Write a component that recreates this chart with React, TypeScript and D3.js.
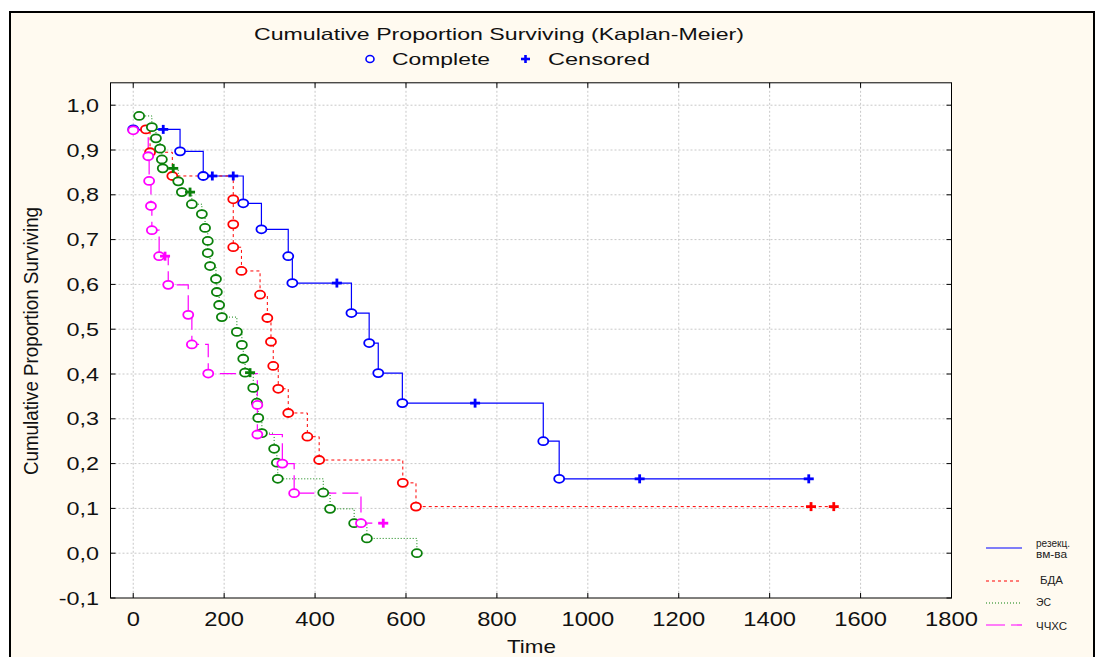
import * as d3 from 'd3';

// резекц. вм-ва
const resTimes = [0, 66, 103, 154, 174, 220, 242, 282, 341, 350, 448, 480, 519, 539, 592, 752, 902, 937, 1114, 1486];
const resSurv = [0.946, 0.946, 0.897, 0.842, 0.842, 0.842, 0.781, 0.723, 0.663, 0.603, 0.603, 0.536, 0.469, 0.402, 0.335, 0.335, 0.25, 0.166, 0.166, 0.166];
const resCens = [0, 1, 0, 0, 1, 1, 0, 0, 0, 0, 1, 0, 0, 0, 0, 1, 0, 0, 1, 1];

// БДА
const bdaTimes = [28, 37, 86, 220, 220, 220, 238, 279, 295, 303, 308, 319, 341, 383, 409, 593, 622, 1491, 1541];
const bdaSurv = [0.946, 0.895, 0.842, 0.79, 0.734, 0.683, 0.63, 0.577, 0.525, 0.472, 0.418, 0.367, 0.313, 0.26, 0.208, 0.157, 0.104, 0.104, 0.104];
const bdaCens = [0, 0, 0, 0, 0, 0, 0, 0, 0, 0, 0, 0, 0, 0, 0, 0, 0, 1, 1];

// ЭС
const esTimes = [13, 41, 50, 59, 63, 65, 88, 99, 107, 125, 129, 151, 158, 164, 164, 169, 182, 184, 189, 195, 228, 239, 242, 246, 257, 264, 272, 275, 283, 310, 316, 318, 418, 433, 486, 514, 624];
const esSurv = [0.976, 0.951, 0.926, 0.903, 0.879, 0.859, 0.859, 0.83, 0.806, 0.806, 0.779, 0.757, 0.726, 0.697, 0.67, 0.641, 0.612, 0.583, 0.554, 0.527, 0.494, 0.465, 0.434, 0.403, 0.403, 0.369, 0.336, 0.302, 0.268, 0.233, 0.202, 0.166, 0.135, 0.099, 0.067, 0.033, 0.0];
const esCens = [0, 0, 0, 0, 0, 0, 1, 0, 0, 1, 0, 0, 0, 0, 0, 0, 0, 0, 0, 0, 0, 0, 0, 0, 1, 0, 0, 0, 0, 0, 0, 0, 0, 0, 0, 0, 0];

// ЧЧХС
const chTimes = [0, 33, 35, 39, 41, 57, 70, 77, 121, 129, 165, 273, 273, 328, 354, 501, 550];
const chSurv = [0.944, 0.886, 0.831, 0.775, 0.721, 0.663, 0.663, 0.599, 0.532, 0.466, 0.401, 0.331, 0.265, 0.2, 0.134, 0.067, 0.067];
const chCens = [0, 0, 0, 0, 0, 0, 1, 0, 0, 0, 0, 0, 0, 0, 0, 0, 1];

const xTicks = [0, 200, 400, 600, 800, 1000, 1200, 1400, 1600, 1800];
const yTicks = [-0.1, 0, 0.1, 0.2, 0.3, 0.4, 0.5, 0.6, 0.7, 0.8, 0.9, 1.0];

const series = [
  { name: 'res', times: resTimes, surv: resSurv, cens: resCens, color: '#0000ff', dash: 'none', width: 1.2 },
  { name: 'bda', times: bdaTimes, surv: bdaSurv, cens: bdaCens, color: '#ff0000', dash: '3,3', width: 1 },
  { name: 'es', times: esTimes, surv: esSurv, cens: esCens, color: '#0a800a', dash: '1,2', width: 1 },
  { name: 'ch', times: chTimes, surv: chSurv, cens: chCens, color: '#ff00ff', dash: '16,6', width: 1.2 },
];

const legendItems = [
  { labels: ['резекц.', 'вм-ва'], widths: [34, 31], color: '#0000ff', dash: 'none', y: 548, tx: 1036, ty: 547 },
  { labels: ['БДА'], widths: [23], color: '#ff0000', dash: '3,3', y: 581, tx: 1040, ty: 584 },
  { labels: ['ЭС'], widths: [15], color: '#0a800a', dash: '1,2', y: 603, tx: 1036, ty: 606 },
  { labels: ['ЧЧХС'], widths: [31], color: '#ff00ff', dash: '19,6', y: 625, tx: 1036, ty: 630 },
];

const W = 1097;
const H = 657;
const left = 110.5;
const right = 951.5;
const top = 82.8;
const bottom = 598;

const font = '"Liberation Sans", Arial, sans-serif';

export default function App() {
  const x = d3.scaleLinear().domain([-50, 1800]).range([left, right]);
  const y = d3.scaleLinear().domain([-0.1, 1.05]).range([bottom, top]);

  const line = d3
    .line<[number, number]>()
    .x(d => x(d[0]))
    .y(d => y(d[1]))
    .curve(d3.curveStepAfter);

  const fmtY = (v: number) => v.toFixed(1).replace('.', ',');

  return (
    <div style={{ position: 'absolute', left: 0, top: 0 }}>
      <svg width={W} height={H} style={{ display: 'block' }}>
        <rect x={0} y={0} width={W} height={H} fill="#ffffff" />
        <rect x={10} y={12} width={1084} height={680} fill="#fffaf0" stroke="#000" strokeWidth={2} />

        {/* title */}
        <text x={254} y={40} fontFamily={font} fontSize={16.5} textLength={490} lengthAdjust="spacingAndGlyphs" fill="#111">
          Cumulative Proportion Surviving (Kaplan-Meier)
        </text>
        <ellipse cx={370} cy={59} rx={4} ry={3.5} fill="#fff" stroke="#0000ff" strokeWidth={1.6} />
        <text x={392} y={65} fontFamily={font} fontSize={16.5} textLength={98} lengthAdjust="spacingAndGlyphs" fill="#111">
          Complete
        </text>
        <g stroke="#0000ff" strokeWidth={2.6}>
          <line x1={521} x2={530} y1={59} y2={59} />
          <line x1={525.5} x2={525.5} y1={55} y2={63} />
        </g>
        <text x={548} y={65} fontFamily={font} fontSize={16.5} textLength={102} lengthAdjust="spacingAndGlyphs" fill="#111">
          Censored
        </text>

        {/* plot area */}
        <rect x={left} y={top} width={right - left} height={bottom - top} fill="#ffffff" />
        <g stroke="#c8c8c8" strokeWidth={1} strokeDasharray="2,2">
          {xTicks.filter(t => t < 1800).map(t => (
            <line key={'gx' + t} x1={x(t)} x2={x(t)} y1={top} y2={bottom} />
          ))}
          {yTicks.filter(t => t > -0.1).map(t => (
            <line key={'gy' + t} x1={left} x2={right} y1={y(t)} y2={y(t)} />
          ))}
        </g>
        <g stroke="#000" strokeWidth={1}>
          {xTicks.map(t => (
            <g key={'tx' + t}>
              <line x1={x(t)} x2={x(t)} y1={bottom} y2={bottom - 5} />
              <line x1={x(t)} x2={x(t)} y1={top} y2={top + 5} />
            </g>
          ))}
          {yTicks.map(t => (
            <g key={'ty' + t}>
              <line x1={left} x2={left + 5} y1={y(t)} y2={y(t)} />
              <line x1={right} x2={right - 5} y1={y(t)} y2={y(t)} />
            </g>
          ))}
        </g>

        {/* step lines */}
        {series.map(s => (
          <path
            key={'l' + s.name}
            d={line(s.times.map((t, i) => [t, s.surv[i]] as [number, number])) || ''}
            fill="none"
            stroke={s.color}
            strokeWidth={s.width}
            strokeDasharray={s.dash}
          />
        ))}

        {/* markers */}
        {series.map(s => (
          <g key={'m' + s.name}>
            {s.times.map((t, i) =>
              s.cens[i] ? (
                <g key={i} stroke={s.color} strokeWidth={2.8}>
                  <line x1={x(t) - 5} x2={x(t) + 5} y1={y(s.surv[i])} y2={y(s.surv[i])} />
                  <line x1={x(t)} x2={x(t)} y1={y(s.surv[i]) - 4.5} y2={y(s.surv[i]) + 4.5} />
                </g>
              ) : (
                <ellipse key={i} cx={x(t)} cy={y(s.surv[i])} rx={5} ry={4} fill="#fff" stroke={s.color} strokeWidth={1.8} />
              )
            )}
          </g>
        ))}

        <rect x={left} y={top} width={right - left} height={bottom - top} fill="none" stroke="#000" strokeWidth={1} />

        {/* tick labels */}
        {xTicks.map(t => (
          <text
            key={'xl' + t}
            transform={`translate(${x(t)},626) scale(1.13,1)`}
            textAnchor="middle"
            fontFamily={font}
            fontSize={21}
            fill="#111"
          >
            {t}
          </text>
        ))}
        {yTicks.map(t => (
          <text
            key={'yl' + t}
            transform={`translate(99,${y(t) + 6.5}) scale(1.3,1)`}
            textAnchor="end"
            fontFamily={font}
            fontSize={18}
            fill="#111"
          >
            {fmtY(t)}
          </text>
        ))}

        {/* axis titles */}
        <text
          transform={`translate(38,${341}) rotate(-90)`}
          textAnchor="middle"
          fontFamily={font}
          fontSize={20}
          textLength={268}
          lengthAdjust="spacingAndGlyphs"
          fill="#111"
        >
          Cumulative Proportion Surviving
        </text>
        <text x={507} y={653} fontFamily={font} fontSize={19} textLength={49} lengthAdjust="spacingAndGlyphs" fill="#111">
          Time
        </text>

        {/* series legend */}
        {legendItems.map(item => (
          <g key={item.labels[0]}>
            <line x1={986} x2={1022} y1={item.y} y2={item.y} stroke={item.color} strokeWidth={1.2} strokeDasharray={item.dash} />
            {item.labels.map((lab, j) => (
              <text
                key={lab}
                x={item.tx}
                y={item.ty + j * 11}
                fontFamily={font}
                fontSize={10.5}
                textLength={item.widths[j]}
                lengthAdjust="spacingAndGlyphs"
                fill="#222"
              >
                {lab}
              </text>
            ))}
          </g>
        ))}
      </svg>
    </div>
  );
}
